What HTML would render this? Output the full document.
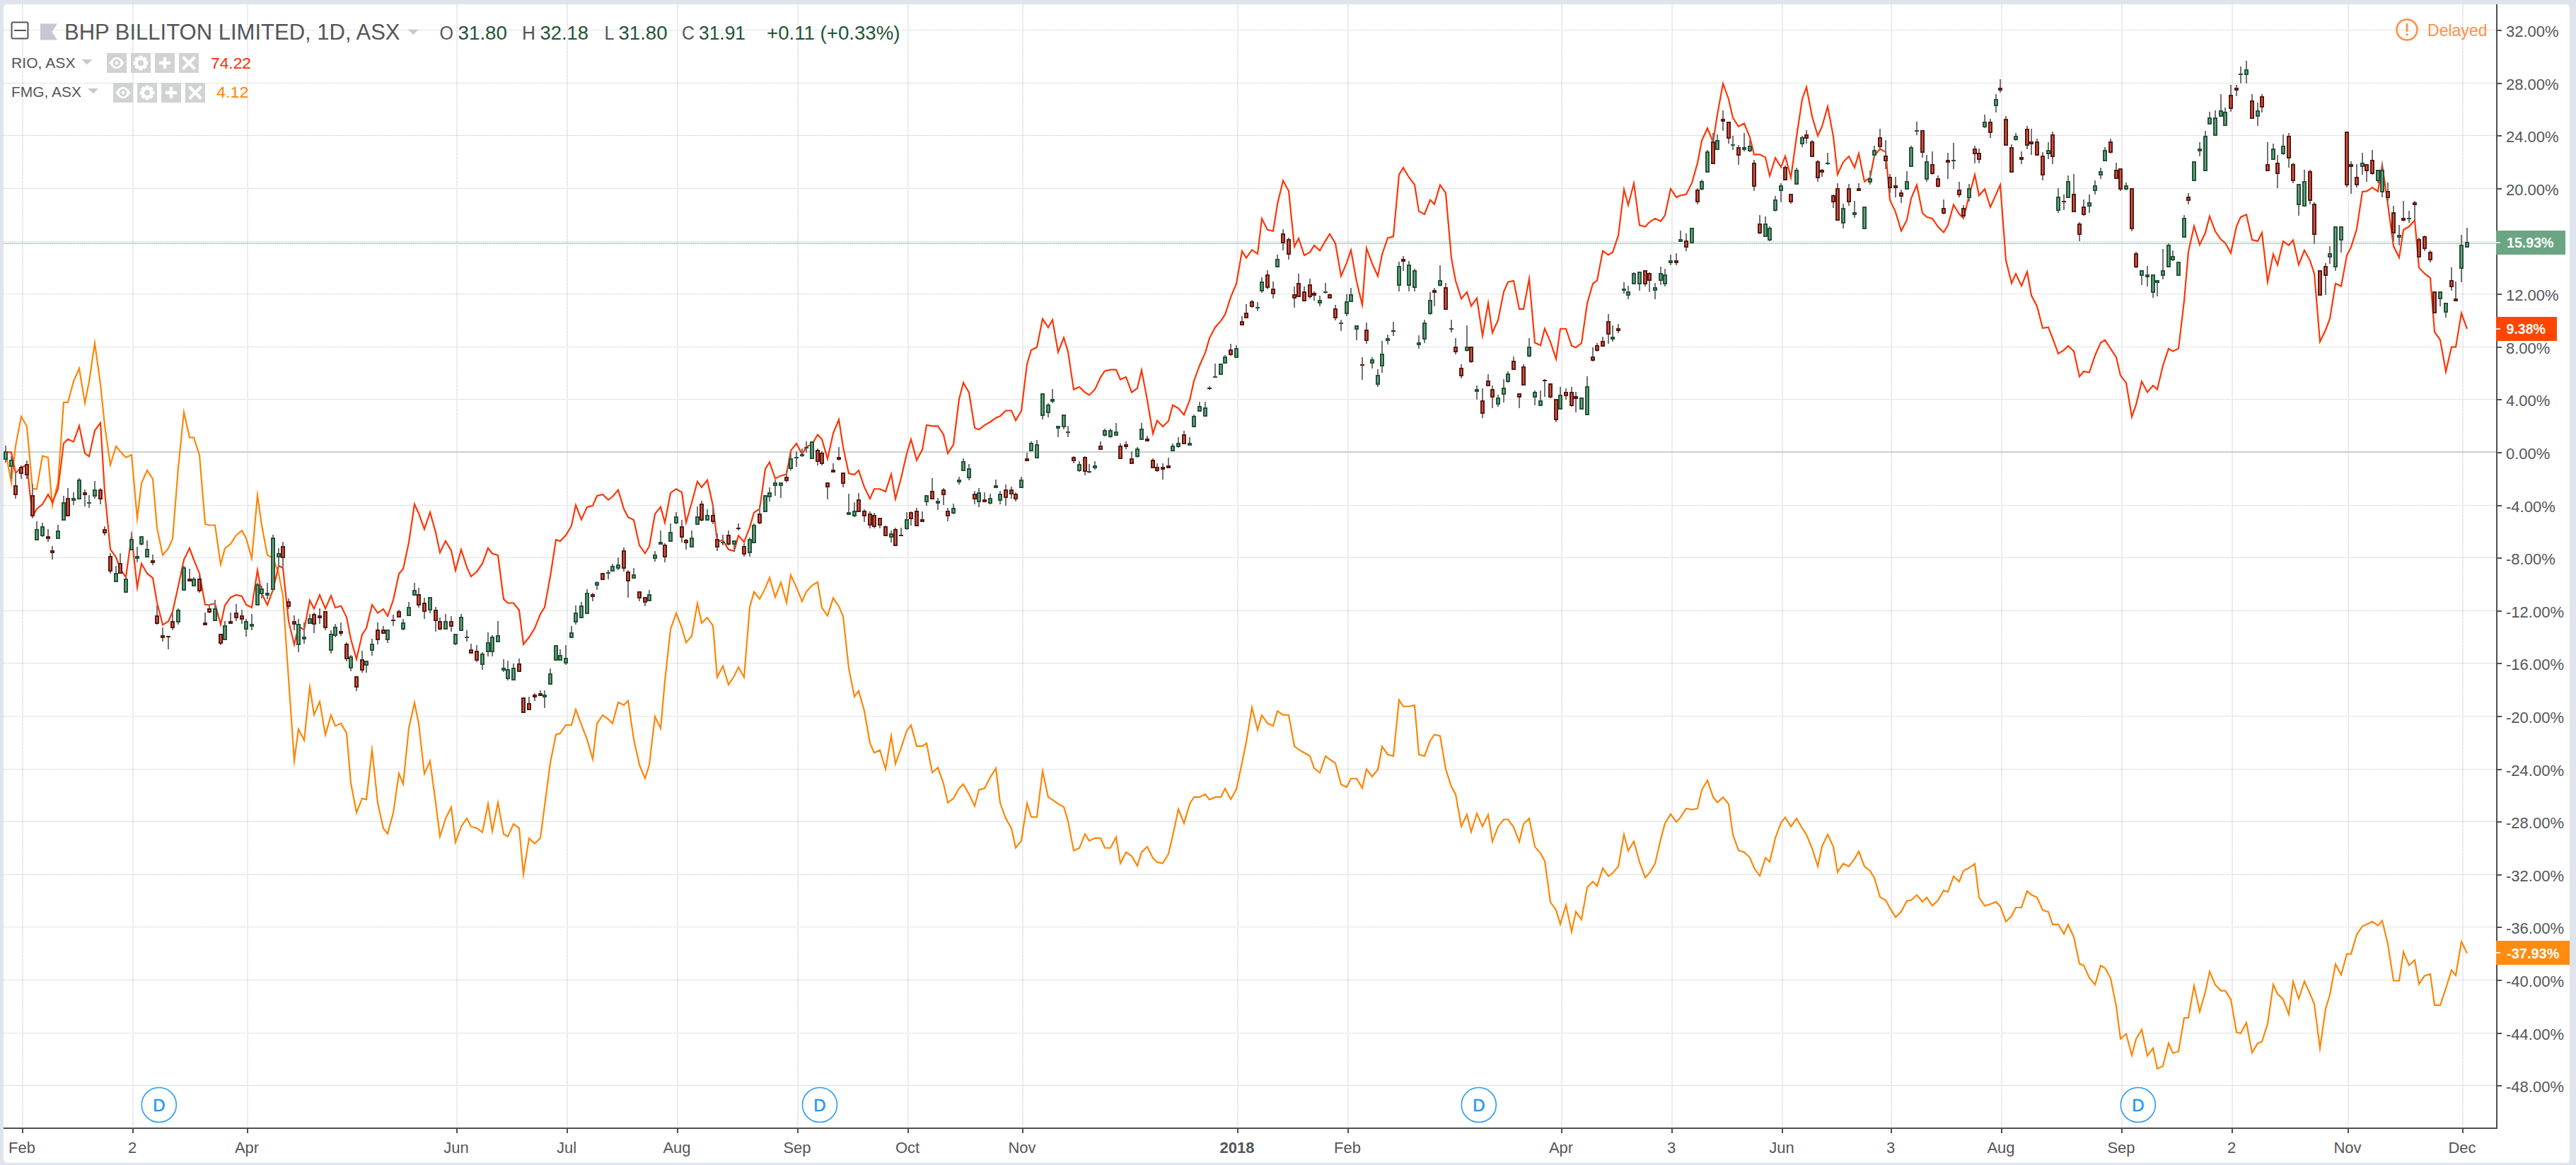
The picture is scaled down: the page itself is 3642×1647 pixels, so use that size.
<!DOCTYPE html><html><head><meta charset="utf-8"><title>BHP chart</title><style>html,body{margin:0;padding:0;background:#fff}body{width:3642px;height:1647px;overflow:hidden;position:relative}svg{position:absolute;left:0;top:0;display:block}text{font-family:"Liberation Sans",sans-serif}</style></head><body>
<svg width="3642" height="1647" viewBox="0 0 3642 1647">
<rect x="0" y="0" width="3642" height="1647" fill="#dfe3ec"/>
<rect x="5" y="6" width="3628" height="1638" rx="5" ry="5" fill="#fff"/>
<g stroke="#c3c9c5" stroke-width="1" stroke-dasharray="1 1" fill="none">
<path d="M5 42.5H3529"/>
<path d="M5 117.5H3529"/>
<path d="M5 191.5H3529"/>
<path d="M5 266.5H3529"/>
<path d="M5 341.5H3529"/>
<path d="M5 415.5H3529"/>
<path d="M5 490.5H3529"/>
<path d="M5 564.5H3529"/>
<path d="M5 714.5H3529"/>
<path d="M5 788.5H3529"/>
<path d="M5 863.5H3529"/>
<path d="M5 937.5H3529"/>
<path d="M5 1012.5H3529"/>
<path d="M5 1087.5H3529"/>
<path d="M5 1161.5H3529"/>
<path d="M5 1236.5H3529"/>
<path d="M5 1310.5H3529"/>
<path d="M5 1385.5H3529"/>
<path d="M5 1460.5H3529"/>
<path d="M5 1534.5H3529"/>
</g>
<g stroke="#d9d9e3" stroke-width="2" stroke-dasharray="1 1" fill="none">
<path d="M32.0 6V1594"/>
<path d="M188.0 6V1594"/>
<path d="M350.0 6V1594"/>
<path d="M646.0 6V1594"/>
<path d="M802.0 6V1594"/>
<path d="M958.0 6V1594"/>
<path d="M1128.0 6V1594"/>
<path d="M1284.0 6V1594"/>
<path d="M1446.0 6V1594"/>
<path d="M1750.0 6V1594"/>
<path d="M1906.0 6V1594"/>
<path d="M2208.0 6V1594"/>
<path d="M2364.0 6V1594"/>
<path d="M2520.0 6V1594"/>
<path d="M2674.0 6V1594"/>
<path d="M2830.0 6V1594"/>
<path d="M3000.0 6V1594"/>
<path d="M3156.0 6V1594"/>
<path d="M3320.0 6V1594"/>
<path d="M3482.0 6V1594"/>
</g>
<rect x="5" y="638" width="3524" height="2" fill="#cad0cb"/>
<rect x="5" y="343" width="3524" height="2" fill="#d8e0db"/>
<path d="M5 344.5H3529" stroke="#8ccaa0" stroke-width="1" stroke-dasharray="1 2" fill="none"/>
<path d="M5 343.5H3529" stroke="#a9d8d2" stroke-width="1" stroke-dasharray="1 2" fill="none"/>
<polyline points="8.0,638.8 16.0,682.5 22.0,630.6 30.0,588.8 38.0,602.8 46.0,691.1 52.0,691.1 60.0,644.7 68.0,646.8 74.0,714.8 82.0,682.1 90.0,568.8 96.0,568.8 104.0,539.2 112.0,520.8 120.0,569.7 126.0,539.2 134.0,485.1 142.0,543.0 148.0,601.0 156.0,657.3 164.0,630.9 170.0,638.3 178.0,646.8 186.0,643.1 194.0,733.1 200.0,683.4 208.0,664.9 216.0,676.9 222.0,746.4 230.0,784.6 238.0,775.2 244.0,761.8 252.0,661.4 260.0,582.7 268.0,618.5 274.0,618.5 282.0,643.5 290.0,740.7 296.0,742.5 304.0,742.5 312.0,797.9 318.0,775.2 326.0,769.0 334.0,756.7 342.0,750.2 348.0,761.0 356.0,789.4 364.0,700.2 370.0,742.5 378.0,785.0 386.0,788.8 394.0,810.7 400.0,842.9 408.0,960.0 416.0,1075.3 422.0,1030.9 430.0,1046.5 438.0,971.5 444.0,1010.5 452.0,992.0 460.0,1038.9 468.0,1010.9 474.0,1026.4 482.0,1022.6 490.0,1036.7 496.0,1106.8 504.0,1148.8 512.0,1128.7 518.0,1130.4 526.0,1060.1 534.0,1135.1 542.0,1171.2 548.0,1178.6 556.0,1149.3 564.0,1093.5 570.0,1108.4 578.0,1029.5 586.0,993.5 592.0,1023.1 600.0,1093.9 608.0,1075.8 616.0,1135.1 622.0,1182.7 630.0,1157.0 638.0,1141.2 644.0,1190.6 652.0,1168.7 660.0,1156.8 666.0,1168.7 674.0,1170.7 682.0,1176.7 690.0,1136.5 696.0,1175.1 704.0,1134.5 712.0,1179.0 718.0,1182.8 726.0,1164.9 734.0,1170.7 740.0,1235.5 748.0,1185.1 756.0,1192.6 764.0,1184.7 770.0,1139.1 778.0,1078.5 786.0,1038.6 792.0,1036.8 800.0,1025.0 808.0,1025.0 814.0,1002.9 822.0,1024.5 830.0,1045.1 838.0,1073.2 844.0,1023.2 852.0,1011.0 860.0,1016.8 866.0,1023.0 874.0,993.0 882.0,996.8 888.0,990.6 896.0,1045.1 904.0,1081.1 912.0,1100.6 918.0,1081.1 926.0,1012.9 934.0,1029.8 940.0,962.8 948.0,889.4 956.0,866.9 964.0,887.3 970.0,908.4 978.0,899.2 986.0,852.8 992.0,880.8 1000.0,873.2 1008.0,884.7 1014.0,957.3 1022.0,941.6 1030.0,967.9 1038.0,955.8 1044.0,943.0 1052.0,957.4 1060.0,858.5 1066.0,836.9 1074.0,846.7 1082.0,831.4 1088.0,816.6 1096.0,844.2 1104.0,823.3 1112.0,851.9 1118.0,813.0 1126.0,830.1 1134.0,850.3 1140.0,836.6 1148.0,827.6 1156.0,823.0 1162.0,859.0 1170.0,870.4 1178.0,845.3 1186.0,857.2 1192.0,871.3 1200.0,944.7 1208.0,984.8 1214.0,976.7 1222.0,1005.1 1230.0,1050.7 1236.0,1064.3 1244.0,1060.5 1252.0,1087.3 1260.0,1040.5 1266.0,1079.9 1274.0,1057.3 1282.0,1032.9 1288.0,1025.2 1296.0,1054.8 1304.0,1054.8 1310.0,1050.8 1318.0,1092.3 1326.0,1085.1 1334.0,1108.1 1340.0,1134.9 1348.0,1128.7 1356.0,1114.5 1362.0,1108.7 1370.0,1122.8 1378.0,1139.7 1384.0,1116.6 1392.0,1114.5 1400.0,1099.1 1408.0,1086.1 1414.0,1135.1 1422.0,1157.0 1430.0,1171.2 1436.0,1198.6 1444.0,1188.7 1452.0,1135.7 1458.0,1155.0 1466.0,1155.0 1474.0,1090.2 1482.0,1126.9 1488.0,1130.7 1496.0,1136.4 1504.0,1140.8 1510.0,1160.9 1518.0,1202.5 1526.0,1199.0 1534.0,1179.2 1540.0,1188.7 1548.0,1184.8 1556.0,1184.8 1562.0,1198.7 1570.0,1198.7 1578.0,1183.5 1584.0,1220.6 1592.0,1204.8 1600.0,1210.3 1608.0,1224.1 1614.0,1204.7 1622.0,1197.1 1630.0,1213.2 1636.0,1218.8 1644.0,1220.6 1652.0,1207.2 1658.0,1181.5 1666.0,1143.8 1674.0,1163.9 1682.0,1136.4 1688.0,1126.9 1696.0,1126.9 1704.0,1122.8 1710.0,1130.5 1718.0,1126.9 1726.0,1126.9 1732.0,1114.8 1740.0,1130.1 1748.0,1115.8 1756.0,1078.5 1762.0,1048.8 1770.0,1000.3 1778.0,1031.9 1784.0,1011.1 1792.0,1022.6 1800.0,1026.3 1806.0,1005.2 1814.0,1010.7 1822.0,1010.7 1830.0,1054.8 1836.0,1059.7 1844.0,1064.3 1852.0,1068.7 1858.0,1086.2 1866.0,1092.5 1874.0,1069.0 1880.0,1073.5 1888.0,1078.8 1896.0,1109.0 1904.0,1112.8 1910.0,1100.7 1918.0,1100.7 1926.0,1114.1 1932.0,1087.2 1940.0,1098.0 1948.0,1088.0 1954.0,1055.5 1962.0,1066.7 1970.0,1068.8 1978.0,989.7 1984.0,998.7 1992.0,998.7 2000.0,997.0 2006.0,1066.7 2014.0,1068.9 2022.0,1047.2 2028.0,1038.6 2036.0,1040.4 2044.0,1087.4 2052.0,1112.1 2058.0,1122.9 2066.0,1168.3 2074.0,1151.5 2080.0,1176.0 2088.0,1150.0 2096.0,1168.2 2104.0,1151.7 2110.0,1189.8 2118.0,1168.7 2126.0,1158.5 2132.0,1158.5 2140.0,1169.3 2148.0,1190.1 2154.0,1164.7 2162.0,1157.2 2170.0,1197.1 2178.0,1206.4 2184.0,1217.2 2192.0,1275.3 2200.0,1286.7 2206.0,1306.6 2214.0,1279.4 2222.0,1317.1 2228.0,1288.8 2236.0,1300.0 2244.0,1254.3 2252.0,1246.5 2258.0,1252.5 2266.0,1227.5 2274.0,1238.8 2280.0,1234.2 2288.0,1224.9 2296.0,1179.8 2302.0,1202.8 2310.0,1189.4 2318.0,1218.7 2326.0,1240.8 2332.0,1234.2 2340.0,1220.9 2348.0,1186.3 2354.0,1164.0 2362.0,1151.0 2370.0,1162.1 2376.0,1155.4 2384.0,1143.0 2392.0,1144.6 2400.0,1143.0 2406.0,1116.8 2414.0,1103.4 2422.0,1126.7 2428.0,1134.4 2436.0,1127.1 2444.0,1136.9 2450.0,1180.1 2458.0,1202.4 2466.0,1204.8 2474.0,1212.6 2480.0,1227.1 2488.0,1238.4 2496.0,1212.7 2502.0,1218.5 2510.0,1184.7 2518.0,1163.1 2524.0,1155.5 2532.0,1168.5 2540.0,1157.1 2548.0,1170.8 2554.0,1180.1 2562.0,1199.6 2570.0,1224.5 2576.0,1196.5 2584.0,1179.7 2592.0,1197.1 2598.0,1232.9 2606.0,1220.9 2614.0,1224.9 2622.0,1214.1 2628.0,1203.6 2636.0,1224.9 2644.0,1231.1 2650.0,1241.3 2658.0,1268.1 2666.0,1272.8 2672.0,1283.6 2680.0,1296.8 2688.0,1288.8 2696.0,1273.4 2702.0,1272.8 2710.0,1265.2 2718.0,1274.9 2724.0,1268.8 2732.0,1280.4 2740.0,1272.8 2748.0,1258.9 2754.0,1261.0 2762.0,1239.0 2770.0,1246.4 2776.0,1231.1 2784.0,1227.0 2792.0,1221.2 2798.0,1268.8 2806.0,1280.5 2814.0,1278.3 2822.0,1274.9 2828.0,1281.4 2836.0,1302.9 2844.0,1295.0 2850.0,1283.0 2858.0,1283.0 2866.0,1259.6 2872.0,1265.1 2880.0,1268.8 2888.0,1286.7 2896.0,1289.2 2902.0,1306.8 2910.0,1306.8 2918.0,1320.4 2924.0,1307.2 2932.0,1324.7 2940.0,1362.4 2946.0,1364.9 2954.0,1382.5 2962.0,1392.0 2970.0,1365.0 2976.0,1368.6 2984.0,1383.1 2992.0,1422.6 2998.0,1468.7 3006.0,1461.6 3014.0,1492.1 3020.0,1469.0 3028.0,1455.7 3036.0,1492.6 3044.0,1481.8 3050.0,1511.0 3058.0,1507.1 3066.0,1474.8 3072.0,1488.8 3080.0,1486.5 3088.0,1439.0 3094.0,1439.0 3102.0,1393.5 3110.0,1430.4 3118.0,1401.7 3124.0,1373.5 3132.0,1392.3 3140.0,1400.6 3146.0,1400.6 3154.0,1412.9 3162.0,1459.3 3168.0,1460.8 3176.0,1446.0 3184.0,1488.1 3192.0,1474.9 3198.0,1472.7 3206.0,1447.5 3214.0,1391.8 3220.0,1405.0 3228.0,1412.9 3236.0,1434.4 3242.0,1387.5 3250.0,1412.0 3258.0,1387.2 3266.0,1405.0 3272.0,1419.6 3280.0,1481.9 3288.0,1426.2 3294.0,1406.2 3302.0,1363.0 3310.0,1378.0 3318.0,1348.6 3324.0,1348.6 3332.0,1321.3 3340.0,1309.5 3346.0,1306.8 3354.0,1302.8 3362.0,1308.6 3368.0,1301.5 3376.0,1334.7 3384.0,1386.5 3392.0,1386.5 3398.0,1345.8 3406.0,1364.7 3414.0,1357.4 3420.0,1391.2 3428.0,1379.4 3436.0,1377.2 3442.0,1421.1 3450.0,1421.1 3458.0,1397.2 3466.0,1371.4 3472.0,1379.0 3480.0,1331.2 3488.0,1347.5" fill="none" stroke="#FF8400" stroke-width="2.15" stroke-linejoin="miter" stroke-miterlimit="10"/>
<polyline points="8.0,638.8 16.0,639.6 22.0,668.9 30.0,661.0 38.0,657.7 46.0,730.3 52.0,719.4 60.0,713.0 68.0,699.0 74.0,710.1 82.0,691.1 90.0,626.7 96.0,620.8 104.0,624.6 112.0,602.1 120.0,640.9 126.0,645.2 134.0,608.7 142.0,597.8 148.0,694.8 156.0,776.7 164.0,787.6 170.0,804.3 178.0,816.0 186.0,757.3 194.0,830.4 200.0,796.8 208.0,810.7 216.0,817.2 222.0,851.9 230.0,883.3 238.0,878.5 244.0,864.8 252.0,828.8 260.0,791.4 268.0,775.1 274.0,791.4 282.0,810.7 290.0,855.0 296.0,855.0 304.0,853.2 312.0,883.0 318.0,855.8 326.0,844.7 334.0,840.9 342.0,842.9 348.0,855.0 356.0,859.0 364.0,806.1 370.0,839.1 378.0,855.3 386.0,833.9 394.0,799.8 400.0,803.0 408.0,877.7 416.0,911.4 422.0,885.5 430.0,890.4 438.0,848.7 444.0,860.6 452.0,841.0 460.0,860.4 468.0,842.1 474.0,859.2 482.0,856.6 490.0,872.5 496.0,903.5 504.0,931.8 512.0,897.0 518.0,888.0 526.0,855.0 534.0,866.6 542.0,861.0 548.0,871.0 556.0,848.1 564.0,811.3 570.0,804.3 578.0,767.0 586.0,712.8 592.0,725.8 600.0,748.1 608.0,724.2 616.0,752.8 622.0,781.2 630.0,764.8 638.0,778.5 644.0,806.5 652.0,777.0 660.0,801.7 666.0,815.1 674.0,808.2 682.0,796.7 690.0,775.0 696.0,782.5 704.0,785.1 712.0,846.9 718.0,852.5 726.0,852.5 734.0,862.8 740.0,910.8 748.0,901.0 756.0,888.1 764.0,868.0 770.0,858.5 778.0,814.7 786.0,763.2 792.0,765.0 800.0,756.8 808.0,743.2 814.0,714.0 822.0,734.4 830.0,716.9 838.0,714.9 844.0,701.0 852.0,698.9 860.0,706.6 866.0,702.0 874.0,692.8 882.0,719.5 888.0,731.1 896.0,735.0 904.0,770.9 912.0,782.3 918.0,772.2 926.0,726.7 934.0,716.7 940.0,738.9 948.0,696.8 956.0,691.2 964.0,695.8 970.0,738.7 978.0,710.5 986.0,680.7 992.0,689.0 1000.0,678.8 1008.0,714.9 1014.0,765.7 1022.0,763.7 1030.0,776.8 1038.0,779.1 1044.0,757.1 1052.0,766.2 1060.0,745.3 1066.0,724.7 1074.0,719.5 1082.0,662.8 1088.0,653.4 1096.0,676.4 1104.0,672.4 1112.0,670.6 1118.0,637.1 1126.0,627.0 1134.0,642.0 1140.0,631.9 1148.0,628.1 1156.0,614.5 1162.0,620.9 1170.0,648.7 1178.0,612.6 1186.0,593.0 1192.0,631.9 1200.0,669.3 1208.0,671.1 1214.0,664.9 1222.0,688.6 1230.0,704.9 1236.0,691.2 1244.0,691.2 1252.0,694.9 1260.0,670.4 1266.0,705.3 1274.0,675.7 1282.0,641.0 1288.0,621.1 1296.0,650.5 1304.0,635.6 1310.0,600.9 1318.0,602.4 1326.0,602.4 1334.0,614.5 1340.0,641.1 1348.0,628.7 1356.0,564.3 1362.0,541.1 1370.0,554.8 1378.0,605.0 1384.0,607.3 1392.0,601.1 1400.0,596.5 1408.0,590.8 1414.0,588.3 1422.0,580.5 1430.0,580.5 1436.0,594.4 1444.0,581.0 1452.0,514.9 1458.0,494.8 1466.0,490.9 1474.0,450.8 1482.0,462.9 1488.0,452.1 1496.0,497.9 1504.0,477.4 1510.0,497.3 1518.0,550.6 1526.0,547.0 1534.0,554.8 1540.0,558.4 1548.0,550.7 1556.0,533.4 1562.0,524.4 1570.0,522.6 1578.0,522.6 1584.0,536.5 1592.0,532.9 1600.0,554.7 1608.0,548.8 1614.0,523.1 1622.0,565.6 1630.0,613.0 1636.0,594.6 1644.0,602.9 1652.0,595.2 1658.0,572.6 1666.0,577.2 1674.0,586.4 1682.0,565.6 1688.0,538.5 1696.0,516.7 1704.0,498.6 1710.0,478.1 1718.0,462.7 1726.0,453.7 1732.0,444.7 1740.0,420.2 1748.0,400.9 1756.0,355.0 1762.0,364.6 1770.0,353.2 1778.0,358.9 1784.0,309.1 1792.0,324.9 1800.0,326.7 1806.0,288.8 1814.0,255.3 1822.0,270.0 1830.0,348.6 1836.0,337.0 1844.0,360.9 1852.0,356.6 1858.0,346.9 1866.0,354.4 1874.0,340.4 1880.0,330.8 1888.0,344.2 1896.0,390.3 1904.0,371.3 1910.0,353.5 1918.0,398.3 1926.0,430.9 1932.0,350.9 1940.0,372.5 1948.0,390.5 1954.0,359.7 1962.0,336.5 1970.0,334.4 1978.0,246.9 1984.0,237.0 1992.0,250.7 2000.0,261.0 2006.0,298.6 2014.0,302.9 2022.0,282.6 2028.0,288.6 2036.0,261.5 2044.0,272.9 2052.0,364.8 2058.0,397.0 2066.0,422.4 2074.0,412.8 2080.0,432.7 2088.0,421.6 2096.0,474.5 2104.0,428.6 2110.0,470.3 2118.0,452.4 2126.0,412.5 2132.0,398.8 2140.0,397.0 2148.0,436.9 2154.0,436.9 2162.0,394.1 2170.0,484.6 2178.0,488.3 2184.0,464.7 2192.0,483.3 2200.0,507.5 2206.0,464.7 2214.0,464.7 2222.0,488.9 2228.0,491.2 2236.0,485.0 2244.0,428.8 2252.0,401.0 2258.0,396.7 2266.0,354.7 2274.0,360.4 2280.0,356.5 2288.0,332.9 2296.0,267.8 2302.0,289.9 2310.0,259.2 2318.0,318.4 2326.0,320.5 2332.0,314.1 2340.0,308.9 2348.0,312.8 2354.0,304.3 2362.0,267.0 2370.0,278.8 2376.0,276.2 2384.0,274.7 2392.0,258.7 2400.0,230.4 2406.0,198.7 2414.0,181.3 2422.0,201.0 2428.0,162.1 2436.0,118.2 2444.0,140.2 2450.0,166.5 2458.0,178.8 2466.0,174.6 2474.0,194.3 2480.0,218.3 2488.0,218.3 2496.0,222.6 2502.0,248.7 2510.0,223.1 2518.0,236.4 2524.0,220.8 2532.0,251.0 2540.0,193.0 2548.0,140.2 2554.0,123.1 2562.0,164.7 2570.0,192.0 2576.0,178.8 2584.0,150.6 2592.0,193.0 2598.0,246.6 2606.0,229.1 2614.0,221.0 2622.0,236.8 2628.0,217.2 2636.0,256.7 2644.0,251.0 2650.0,220.1 2658.0,210.5 2666.0,214.9 2672.0,282.6 2680.0,299.9 2688.0,326.3 2696.0,311.0 2702.0,280.6 2710.0,261.5 2718.0,301.2 2724.0,306.8 2732.0,308.9 2740.0,320.5 2748.0,328.6 2754.0,318.4 2762.0,289.4 2770.0,302.5 2776.0,308.7 2784.0,276.7 2792.0,247.0 2798.0,276.3 2806.0,267.2 2814.0,292.8 2822.0,274.9 2828.0,261.4 2836.0,368.1 2844.0,400.2 2850.0,387.1 2858.0,404.1 2866.0,384.2 2872.0,417.6 2880.0,433.0 2888.0,463.9 2896.0,462.6 2902.0,478.1 2910.0,499.9 2918.0,494.8 2924.0,488.9 2932.0,496.6 2940.0,532.4 2946.0,525.0 2954.0,526.5 2962.0,502.5 2970.0,484.5 2976.0,480.7 2984.0,492.8 2992.0,505.1 2998.0,530.9 3006.0,541.2 3014.0,589.2 3020.0,572.1 3028.0,539.3 3036.0,554.4 3044.0,545.0 3050.0,550.5 3058.0,516.7 3066.0,492.9 3072.0,496.6 3080.0,492.8 3088.0,425.3 3094.0,355.8 3102.0,319.7 3110.0,346.1 3118.0,328.8 3124.0,305.7 3132.0,327.0 3140.0,338.6 3146.0,343.5 3154.0,357.7 3162.0,319.8 3168.0,306.9 3176.0,303.2 3184.0,339.1 3192.0,340.9 3198.0,329.0 3206.0,398.4 3214.0,359.2 3220.0,374.4 3228.0,341.1 3236.0,346.8 3242.0,339.4 3250.0,374.1 3258.0,353.8 3266.0,368.6 3272.0,386.7 3280.0,482.9 3288.0,466.5 3294.0,450.5 3302.0,400.9 3310.0,404.6 3318.0,361.0 3324.0,349.4 3332.0,323.7 3340.0,270.9 3346.0,270.4 3354.0,265.0 3362.0,270.7 3368.0,233.0 3376.0,288.9 3384.0,348.1 3392.0,364.1 3398.0,325.0 3406.0,320.3 3414.0,311.3 3420.0,378.4 3428.0,386.7 3436.0,393.1 3442.0,469.1 3450.0,480.7 3458.0,525.3 3466.0,490.6 3472.0,490.6 3480.0,442.8 3488.0,464.8" fill="none" stroke="#FF3300" stroke-width="2.15" stroke-linejoin="miter" stroke-miterlimit="10"/>
<path d="M8 630.0V654.0M16 645.0V677.0M22 667.0V705.0M30 658.0V677.0M38 651.0V677.0M46 684.0V732.0M52 737.0V764.0M60 739.0V759.0M68 748.0V766.0M74 772.0V791.0M82 742.0V762.0M90 701.0V736.0M96 690.0V730.0M104 696.0V714.0M112 676.0V706.0M120 692.0V716.0M126 700.0V718.0M134 680.0V705.0M142 690.0V713.0M148 744.0V757.0M156 782.0V811.0M164 800.0V823.0M170 782.0V811.0M178 816.0V838.0M186 753.0V778.0M194 773.0V795.0M200 758.0V771.0M208 764.0V788.0M216 784.0V799.0M222 856.0V883.0M230 887.0V907.0M238 899.0V918.0M244 866.0V891.0M252 860.0V883.0M260 800.0V835.0M268 804.0V822.0M274 816.0V829.0M282 812.0V838.0M290 866.0V884.0M296 854.0V867.0M304 848.0V878.0M312 896.0V912.0M318 878.0V905.0M326 866.0V882.0M334 854.0V878.0M342 862.0V882.0M348 875.0V900.0M356 868.0V891.0M364 824.0V856.0M370 828.0V846.0M378 824.0V847.0M386 756.0V834.0M394 775.0V802.0M400 766.0V803.0M408 846.0V861.0M416 870.0V891.0M422 875.0V922.0M430 880.0V910.0M438 868.0V882.0M444 866.0V895.0M452 860.0V882.0M460 864.0V891.0M468 891.0V924.0M474 882.0V901.0M482 880.0V899.0M490 908.0V935.0M496 926.0V949.0M504 956.0V977.0M512 920.0V951.0M518 934.0V951.0M526 903.0V927.0M534 880.0V911.0M542 885.0V896.0M548 890.0V909.0M556 869.0V885.0M564 862.0V873.0M570 875.0V891.0M578 851.0V871.0M586 824.0V842.0M592 831.0V859.0M600 845.0V875.0M608 844.0V867.0M616 858.0V893.0M622 873.0V891.0M630 868.0V890.0M638 871.0V893.0M644 896.0V912.0M652 868.0V892.0M660 891.0V907.0M666 910.0V924.0M674 912.0V936.0M682 922.0V947.0M690 894.0V928.0M696 898.0V928.0M704 878.0V908.0M712 932.0V950.0M718 934.0V962.0M726 938.0V962.0M734 931.0V950.0M740 986.0V1008.0M748 985.0V1004.0M756 980.0V991.0M764 976.0V984.0M770 976.0V1001.0M778 945.0V968.0M786 912.0V934.0M792 918.0V934.0M800 912.0V940.0M808 885.0V902.0M814 856.0V883.0M822 851.0V874.0M830 833.0V868.0M838 838.0V850.0M844 822.0V834.0M852 810.0V820.0M860 806.0V819.0M866 797.0V808.0M874 788.0V806.0M882 774.0V808.0M888 806.0V845.0M896 803.0V818.0M904 836.0V850.0M912 844.0V857.0M918 834.0V850.0M926 779.0V794.0M934 750.0V770.0M940 768.0V795.0M948 740.0V766.0M956 724.0V741.0M964 735.0V767.0M970 762.0V777.0M978 750.0V774.0M986 716.0V742.0M992 708.0V737.0M1000 720.0V736.0M1008 716.0V741.0M1014 754.0V779.0M1022 756.0V771.0M1030 750.0V771.0M1038 764.0V779.0M1044 740.0V750.0M1052 768.0V787.0M1060 760.0V787.0M1066 740.0V768.0M1074 714.0V741.0M1082 700.0V724.0M1088 689.0V709.0M1096 678.0V701.0M1104 682.0V704.0M1112 665.0V682.0M1118 640.0V665.0M1126 638.0V660.0M1134 634.0V646.0M1140 624.0V640.0M1148 624.0V649.0M1156 634.0V658.0M1162 638.0V658.0M1170 682.0V706.0M1178 655.0V668.0M1186 632.0V651.0M1192 668.0V689.0M1200 698.0V728.0M1208 710.0V731.0M1214 697.0V724.0M1222 720.0V738.0M1230 723.0V747.0M1236 725.0V747.0M1244 732.0V747.0M1252 743.0V758.0M1260 750.0V767.0M1266 746.0V772.0M1274 746.0V758.0M1282 724.0V749.0M1288 723.0V743.0M1296 718.0V744.0M1304 723.0V738.0M1310 700.0V715.0M1318 676.0V706.0M1326 704.0V721.0M1334 690.0V714.0M1340 718.0V737.0M1348 712.0V727.0M1356 674.0V685.0M1362 648.0V666.0M1370 656.0V679.0M1378 694.0V713.0M1384 690.0V717.0M1392 696.0V710.0M1400 698.0V713.0M1408 678.0V690.0M1414 694.0V713.0M1422 685.0V715.0M1430 688.0V705.0M1436 696.0V709.0M1444 674.0V690.0M1452 640.0V652.0M1458 624.0V638.0M1466 622.0V648.0M1474 556.0V593.0M1482 570.0V590.0M1488 550.0V570.0M1496 602.0V618.0M1504 586.0V607.0M1510 602.0V618.0M1518 645.0V655.0M1526 652.0V667.0M1534 645.0V672.0M1540 656.0V669.0M1548 652.0V664.0M1556 624.0V636.0M1562 606.0V617.0M1570 606.0V619.0M1578 598.0V616.0M1584 627.0V649.0M1592 624.0V635.0M1600 638.0V656.0M1608 632.0V647.0M1614 598.0V622.0M1622 616.0V624.0M1630 648.0V662.0M1636 655.0V667.0M1644 655.0V678.0M1652 647.0V662.0M1658 627.0V638.0M1666 618.0V633.0M1674 609.0V628.0M1682 618.0V630.0M1688 586.0V604.0M1696 568.0V582.0M1704 568.0V589.0M1710 546.0V551.0M1718 514.0V534.0M1726 514.0V530.0M1732 502.0V514.0M1740 486.0V503.0M1748 488.0V506.0M1756 447.0V460.0M1762 430.0V450.0M1770 424.0V435.0M1778 427.0V440.0M1784 392.0V414.0M1792 382.0V409.0M1800 398.0V422.0M1806 360.0V378.0M1814 324.0V354.0M1822 336.0V367.0M1830 405.0V435.0M1836 387.0V420.0M1844 405.0V426.0M1852 394.0V422.0M1858 412.0V425.0M1866 418.0V433.0M1874 400.0V415.0M1880 415.0V422.0M1888 431.0V453.0M1896 452.0V468.0M1904 416.0V447.0M1910 407.0V427.0M1918 460.0V481.0M1926 505.0V537.0M1932 456.0V486.0M1940 505.0V521.0M1948 522.0V547.0M1954 482.0V527.0M1962 473.0V487.0M1970 455.0V475.0M1978 370.0V412.0M1984 362.0V383.0M1992 369.0V412.0M2000 380.0V412.0M2006 474.0V493.0M2014 452.0V485.0M2022 413.0V445.0M2028 407.0V433.0M2036 375.0V405.0M2044 400.0V438.0M2052 452.0V470.0M2058 478.0V501.0M2066 515.0V535.0M2074 460.0V497.0M2080 490.0V513.0M2088 545.0V565.0M2096 549.0V591.0M2104 529.0V546.0M2110 545.0V577.0M2118 558.0V575.0M2126 536.0V569.0M2132 525.0V541.0M2140 504.0V523.0M2148 556.0V577.0M2154 515.0V545.0M2162 478.0V505.0M2170 552.0V573.0M2178 552.0V574.0M2184 536.0V561.0M2192 542.0V563.0M2200 564.0V597.0M2206 547.0V579.0M2214 549.0V565.0M2222 547.0V575.0M2228 554.0V583.0M2236 562.0V579.0M2244 532.0V587.0M2252 491.0V511.0M2258 485.0V497.0M2266 476.0V490.0M2274 444.0V486.0M2280 460.0V483.0M2288 458.0V471.0M2296 399.0V415.0M2302 404.0V423.0M2310 385.0V402.0M2318 384.0V411.0M2326 382.0V405.0M2332 385.0V413.0M2340 400.0V423.0M2348 377.0V403.0M2354 380.0V405.0M2362 360.0V375.0M2370 358.0V375.0M2376 326.0V342.0M2384 330.0V355.0M2392 322.0V344.0M2400 266.0V289.0M2406 254.0V269.0M2414 212.0V244.0M2422 188.0V232.0M2428 190.0V212.0M2436 156.0V185.0M2444 172.0V203.0M2450 192.0V212.0M2458 205.0V233.0M2466 188.0V214.0M2474 198.0V215.0M2480 226.0V270.0M2488 304.0V331.0M2496 306.0V335.0M2502 320.0V341.0M2510 277.0V299.0M2518 259.0V286.0M2524 234.0V255.0M2532 274.0V288.0M2540 237.0V261.0M2548 192.0V208.0M2554 184.0V203.0M2562 198.0V222.0M2570 226.0V257.0M2576 239.0V250.0M2584 216.0V233.0M2592 275.0V294.0M2598 259.0V312.0M2606 288.0V323.0M2614 260.0V291.0M2622 284.0V308.0M2628 259.0V270.0M2636 292.0V324.0M2644 241.0V261.0M2650 206.0V223.0M2658 182.0V210.0M2666 198.0V239.0M2672 246.0V273.0M2680 250.0V279.0M2688 268.0V287.0M2696 242.0V268.0M2702 206.0V236.0M2710 172.0V191.0M2718 184.0V223.0M2724 219.0V257.0M2732 214.0V247.0M2740 248.0V265.0M2748 282.0V303.0M2754 216.0V253.0M2762 202.0V239.0M2770 257.0V279.0M2776 290.0V309.0M2784 260.0V285.0M2792 206.0V231.0M2798 210.0V231.0M2806 162.0V181.0M2814 168.0V195.0M2822 133.0V159.0M2828 112.0V131.0M2836 164.0V206.0M2844 204.0V244.0M2850 188.0V199.0M2858 214.0V232.0M2866 178.0V211.0M2872 182.0V219.0M2880 196.0V220.0M2888 215.0V255.0M2896 201.0V225.0M2902 186.0V232.0M2910 266.0V301.0M2918 275.0V297.0M2924 248.0V280.0M2932 246.0V300.0M2940 314.0V341.0M2946 282.0V305.0M2954 275.0V301.0M2962 255.0V275.0M2970 237.0V253.0M2976 208.0V228.0M2984 196.0V217.0M2992 230.0V253.0M2998 238.0V270.0M3006 258.0V269.0M3014 266.0V327.0M3020 356.0V379.0M3028 382.0V403.0M3036 376.0V405.0M3044 388.0V421.0M3050 396.0V419.0M3058 352.0V395.0M3066 344.0V378.0M3072 354.0V369.0M3080 370.0V390.0M3088 304.0V336.0M3094 273.0V289.0M3102 228.0V256.0M3110 201.0V221.0M3118 185.0V242.0M3124 158.0V176.0M3132 156.0V192.0M3140 133.0V165.0M3146 152.0V178.0M3154 120.0V158.0M3162 120.0V136.0M3168 94.0V118.0M3176 86.0V118.0M3184 133.0V168.0M3192 145.0V178.0M3198 133.0V159.0M3206 201.0V242.0M3214 203.0V226.0M3220 219.0V266.0M3228 190.0V219.0M3236 188.0V237.0M3242 230.0V259.0M3250 260.0V305.0M3258 240.0V292.0M3266 240.0V289.0M3272 286.0V345.0M3280 382.0V418.0M3288 372.0V417.0M3294 348.0V373.0M3302 320.0V383.0M3310 320.0V357.0M3318 186.0V265.0M3324 228.0V274.0M3332 232.0V265.0M3340 216.0V247.0M3346 232.0V257.0M3354 212.0V247.0M3362 240.0V259.0M3368 232.0V279.0M3376 258.0V285.0M3384 291.0V341.0M3392 318.0V347.0M3398 284.0V313.0M3406 298.0V315.0M3414 284.0V311.0M3420 336.0V364.0M3428 333.0V355.0M3436 354.0V371.0M3442 412.0V443.0M3450 412.0V433.0M3458 428.0V449.0M3466 378.0V411.0M3472 398.0V426.0M3480 332.0V399.0M3488 322.0V350.0" stroke="#737375" stroke-width="2" fill="none"/>
<path d="M5 638.0h6v12.0h-6zM13 650.0h6v10.0h-6zM49 748.0h6v16.0h-6zM57 744.0h6v14.0h-6zM79 750.0h6v12.0h-6zM87 710.0h6v26.0h-6zM101 704.0h6v4.0h-6zM109 678.0h6v28.0h-6zM123 710.0h6v2.0h-6zM131 692.0h6v10.0h-6zM161 810.0h6v13.0h-6zM175 818.0h6v20.0h-6zM183 762.0h6v16.0h-6zM191 786.0h6v4.0h-6zM197 758.0h6v12.0h-6zM205 776.0h6v12.0h-6zM249 862.0h6v18.0h-6zM257 802.0h6v33.0h-6zM271 818.0h6v11.0h-6zM301 860.0h6v18.0h-6zM315 884.0h6v21.0h-6zM345 878.0h6v12.0h-6zM353 882.0h6v4.0h-6zM361 826.0h6v30.0h-6zM367 832.0h6v8.0h-6zM375 838.0h6v4.0h-6zM383 760.0h6v74.0h-6zM391 782.0h6v6.0h-6zM419 882.0h6v30.0h-6zM427 900.0h6v4.0h-6zM435 874.0h6v8.0h-6zM465 896.0h6v24.0h-6zM471 886.0h6v13.0h-6zM493 928.0h6v17.0h-6zM515 934.0h6v7.0h-6zM523 910.0h6v10.0h-6zM545 890.0h6v15.0h-6zM567 880.0h6v10.0h-6zM575 858.0h6v13.0h-6zM583 834.0h6v8.0h-6zM605 844.0h6v19.0h-6zM627 878.0h6v12.0h-6zM641 896.0h6v15.0h-6zM649 872.0h6v20.0h-6zM657 900.0h6v2.0h-6zM679 924.0h6v16.0h-6zM687 908.0h6v14.0h-6zM693 900.0h6v22.0h-6zM701 898.0h6v10.0h-6zM709 944.0h6v4.0h-6zM715 946.0h6v14.0h-6zM723 944.0h6v18.0h-6zM767 982.0h6v4.0h-6zM775 952.0h6v16.0h-6zM783 912.0h6v22.0h-6zM789 926.0h6v8.0h-6zM797 930.0h6v8.0h-6zM805 894.0h6v8.0h-6zM811 866.0h6v14.0h-6zM819 856.0h6v18.0h-6zM827 838.0h6v30.0h-6zM841 823.0h6v5.0h-6zM857 809.0h6v2.0h-6zM863 800.0h6v8.0h-6zM871 798.0h6v6.0h-6zM893 812.0h6v6.0h-6zM915 840.0h6v10.0h-6zM923 784.0h6v6.0h-6zM931 766.0h6v4.0h-6zM945 752.0h6v14.0h-6zM953 730.0h6v10.0h-6zM975 760.0h6v14.0h-6zM983 730.0h6v12.0h-6zM997 728.0h6v8.0h-6zM1019 766.0h6v2.0h-6zM1035 764.0h6v6.0h-6zM1057 762.0h6v20.0h-6zM1063 742.0h6v26.0h-6zM1079 700.0h6v24.0h-6zM1085 696.0h6v7.0h-6zM1093 682.0h6v5.0h-6zM1101 682.0h6v5.0h-6zM1115 648.0h6v15.0h-6zM1123 646.0h6v2.0h-6zM1131 642.0h6v3.0h-6zM1137 632.0h6v2.0h-6zM1145 624.0h6v25.0h-6zM1197 724.0h6v4.0h-6zM1205 722.0h6v8.0h-6zM1257 754.0h6v6.0h-6zM1279 734.0h6v14.0h-6zM1307 700.0h6v10.0h-6zM1323 708.0h6v4.0h-6zM1345 718.0h6v8.0h-6zM1353 678.0h6v4.0h-6zM1359 652.0h6v14.0h-6zM1367 662.0h6v14.0h-6zM1381 696.0h6v14.0h-6zM1397 704.0h6v8.0h-6zM1405 686.0h6v4.0h-6zM1411 698.0h6v10.0h-6zM1441 678.0h6v12.0h-6zM1455 626.0h6v12.0h-6zM1463 628.0h6v20.0h-6zM1471 556.0h6v32.0h-6zM1479 572.0h6v12.0h-6zM1485 564.0h6v4.0h-6zM1493 602.0h6v4.0h-6zM1501 586.0h6v18.0h-6zM1507 610.0h6v2.0h-6zM1523 656.0h6v10.0h-6zM1537 666.0h6v2.0h-6zM1545 658.0h6v4.0h-6zM1559 608.0h6v8.0h-6zM1567 608.0h6v10.0h-6zM1575 610.0h6v6.0h-6zM1605 634.0h6v12.0h-6zM1611 606.0h6v16.0h-6zM1655 630.0h6v8.0h-6zM1663 626.0h6v6.0h-6zM1679 626.0h6v4.0h-6zM1685 588.0h6v16.0h-6zM1693 574.0h6v8.0h-6zM1701 576.0h6v13.0h-6zM1715 532.0h6v2.0h-6zM1723 514.0h6v16.0h-6zM1729 504.0h6v10.0h-6zM1745 492.0h6v14.0h-6zM1775 434.0h6v2.0h-6zM1781 398.0h6v14.0h-6zM1803 366.0h6v12.0h-6zM1863 424.0h6v5.0h-6zM1871 412.0h6v2.0h-6zM1893 456.0h6v2.0h-6zM1901 426.0h6v18.0h-6zM1907 416.0h6v11.0h-6zM1915 460.0h6v6.0h-6zM1937 508.0h6v6.0h-6zM1945 530.0h6v14.0h-6zM1951 500.0h6v18.0h-6zM1959 478.0h6v4.0h-6zM1975 376.0h6v28.0h-6zM1989 374.0h6v30.0h-6zM1997 382.0h6v25.0h-6zM2003 484.0h6v4.0h-6zM2011 456.0h6v24.0h-6zM2019 424.0h6v20.0h-6zM2033 396.0h6v8.0h-6zM2049 464.0h6v2.0h-6zM2071 490.0h6v6.0h-6zM2085 550.0h6v4.0h-6zM2115 562.0h6v10.0h-6zM2123 548.0h6v10.0h-6zM2129 528.0h6v12.0h-6zM2159 490.0h6v14.0h-6zM2167 554.0h6v8.0h-6zM2175 566.0h6v8.0h-6zM2203 558.0h6v21.0h-6zM2233 562.0h6v17.0h-6zM2241 546.0h6v41.0h-6zM2277 476.0h6v4.0h-6zM2293 408.0h6v3.0h-6zM2299 412.0h6v6.0h-6zM2307 386.0h6v16.0h-6zM2315 384.0h6v18.0h-6zM2337 406.0h6v5.0h-6zM2345 386.0h6v11.0h-6zM2351 388.0h6v14.0h-6zM2359 368.0h6v4.0h-6zM2373 338.0h6v4.0h-6zM2389 322.0h6v22.0h-6zM2403 256.0h6v12.0h-6zM2411 214.0h6v30.0h-6zM2425 198.0h6v14.0h-6zM2447 204.0h6v2.0h-6zM2463 208.0h6v4.0h-6zM2471 206.0h6v8.0h-6zM2493 316.0h6v19.0h-6zM2499 322.0h6v18.0h-6zM2507 282.0h6v16.0h-6zM2515 262.0h6v8.0h-6zM2537 240.0h6v21.0h-6zM2545 194.0h6v10.0h-6zM2581 230.0h6v2.0h-6zM2603 294.0h6v22.0h-6zM2619 300.0h6v4.0h-6zM2633 292.0h6v32.0h-6zM2641 252.0h6v6.0h-6zM2647 212.0h6v8.0h-6zM2693 256.0h6v12.0h-6zM2699 208.0h6v28.0h-6zM2707 184.0h6v2.0h-6zM2721 228.0h6v26.0h-6zM2759 226.0h6v2.0h-6zM2781 266.0h6v14.0h-6zM2803 172.0h6v8.0h-6zM2819 140.0h6v10.0h-6zM2847 192.0h6v6.0h-6zM2893 212.0h6v6.0h-6zM2907 278.0h6v20.0h-6zM2921 256.0h6v24.0h-6zM2951 286.0h6v6.0h-6zM2959 262.0h6v8.0h-6zM2967 242.0h6v6.0h-6zM2973 212.0h6v16.0h-6zM3003 262.0h6v6.0h-6zM3025 382.0h6v8.0h-6zM3033 388.0h6v4.0h-6zM3041 388.0h6v26.0h-6zM3047 396.0h6v4.0h-6zM3055 382.0h6v8.0h-6zM3063 346.0h6v32.0h-6zM3069 362.0h6v6.0h-6zM3077 370.0h6v20.0h-6zM3085 308.0h6v28.0h-6zM3099 228.0h6v28.0h-6zM3107 210.0h6v4.0h-6zM3115 192.0h6v50.0h-6zM3121 166.0h6v10.0h-6zM3129 166.0h6v26.0h-6zM3137 156.0h6v9.0h-6zM3143 158.0h6v20.0h-6zM3165 104.0h6v2.0h-6zM3173 98.0h6v8.0h-6zM3189 156.0h6v9.0h-6zM3211 210.0h6v16.0h-6zM3225 206.0h6v12.0h-6zM3247 260.0h6v30.0h-6zM3255 256.0h6v36.0h-6zM3291 358.0h6v6.0h-6zM3299 320.0h6v58.0h-6zM3307 320.0h6v20.0h-6zM3337 230.0h6v6.0h-6zM3359 240.0h6v16.0h-6zM3365 240.0h6v32.0h-6zM3389 332.0h6v4.0h-6zM3403 308.0h6v2.0h-6zM3447 412.0h6v11.0h-6zM3455 428.0h6v14.0h-6zM3477 346.0h6v34.0h-6zM3485 342.0h6v8.0h-6z" fill="#225437"/>
<path d="M19 686.0h6v14.0h-6zM27 660.0h6v10.0h-6zM35 656.0h6v16.0h-6zM43 700.0h6v30.0h-6zM65 758.0h6v4.0h-6zM71 778.0h6v4.0h-6zM93 704.0h6v26.0h-6zM117 696.0h6v4.0h-6zM139 692.0h6v14.0h-6zM145 748.0h6v6.0h-6zM153 786.0h6v22.0h-6zM167 796.0h6v15.0h-6zM213 792.0h6v4.0h-6zM219 870.0h6v12.0h-6zM227 898.0h6v4.0h-6zM235 899.0h6v2.0h-6zM241 878.0h6v10.0h-6zM265 818.0h6v4.0h-6zM279 818.0h6v18.0h-6zM287 880.0h6v4.0h-6zM293 860.0h6v6.0h-6zM309 896.0h6v14.0h-6zM323 878.0h6v4.0h-6zM331 866.0h6v8.0h-6zM339 870.0h6v6.0h-6zM397 772.0h6v17.0h-6zM405 850.0h6v8.0h-6zM413 878.0h6v5.0h-6zM441 868.0h6v15.0h-6zM449 870.0h6v4.0h-6zM457 864.0h6v24.0h-6zM479 892.0h6v4.0h-6zM487 910.0h6v22.0h-6zM501 956.0h6v16.0h-6zM509 932.0h6v16.0h-6zM531 890.0h6v15.0h-6zM539 890.0h6v6.0h-6zM553 876.0h6v2.0h-6zM561 864.0h6v9.0h-6zM589 840.0h6v16.0h-6zM597 852.0h6v13.0h-6zM613 862.0h6v16.0h-6zM619 878.0h6v12.0h-6zM635 878.0h6v8.0h-6zM663 918.0h6v6.0h-6zM671 920.0h6v14.0h-6zM731 938.0h6v12.0h-6zM737 986.0h6v22.0h-6zM745 994.0h6v10.0h-6zM753 982.0h6v4.0h-6zM761 980.0h6v4.0h-6zM835 840.0h6v4.0h-6zM849 810.0h6v10.0h-6zM879 778.0h6v26.0h-6zM885 808.0h6v14.0h-6zM901 836.0h6v10.0h-6zM909 844.0h6v8.0h-6zM937 770.0h6v18.0h-6zM961 744.0h6v16.0h-6zM967 763.0h6v5.0h-6zM989 712.0h6v24.0h-6zM1005 728.0h6v10.0h-6zM1011 762.0h6v12.0h-6zM1027 756.0h6v14.0h-6zM1041 746.0h6v2.0h-6zM1049 772.0h6v12.0h-6zM1071 726.0h6v14.0h-6zM1109 674.0h6v6.0h-6zM1153 636.0h6v17.0h-6zM1159 640.0h6v16.0h-6zM1167 682.0h6v7.0h-6zM1175 664.0h6v4.0h-6zM1183 646.0h6v4.0h-6zM1189 668.0h6v16.0h-6zM1211 706.0h6v18.0h-6zM1219 722.0h6v8.0h-6zM1227 726.0h6v17.0h-6zM1233 728.0h6v17.0h-6zM1241 732.0h6v11.0h-6zM1249 744.0h6v14.0h-6zM1263 748.0h6v24.0h-6zM1271 756.0h6v2.0h-6zM1285 724.0h6v10.0h-6zM1293 722.0h6v22.0h-6zM1301 734.0h6v4.0h-6zM1315 694.0h6v12.0h-6zM1331 692.0h6v8.0h-6zM1337 722.0h6v8.0h-6zM1375 698.0h6v8.0h-6zM1389 706.0h6v4.0h-6zM1419 692.0h6v12.0h-6zM1427 692.0h6v7.0h-6zM1433 698.0h6v8.0h-6zM1449 648.0h6v4.0h-6zM1515 646.0h6v6.0h-6zM1531 646.0h6v21.0h-6zM1553 630.0h6v6.0h-6zM1581 630.0h6v19.0h-6zM1589 628.0h6v4.0h-6zM1597 648.0h6v8.0h-6zM1619 620.0h6v4.0h-6zM1627 650.0h6v12.0h-6zM1633 660.0h6v6.0h-6zM1641 660.0h6v4.0h-6zM1649 658.0h6v4.0h-6zM1671 614.0h6v14.0h-6zM1707 548.0h6v2.0h-6zM1737 494.0h6v8.0h-6zM1753 454.0h6v6.0h-6zM1759 442.0h6v8.0h-6zM1767 426.0h6v8.0h-6zM1789 388.0h6v19.0h-6zM1797 408.0h6v8.0h-6zM1811 330.0h6v14.0h-6zM1819 338.0h6v22.0h-6zM1827 416.0h6v6.0h-6zM1833 400.0h6v20.0h-6zM1841 412.0h6v14.0h-6zM1849 402.0h6v18.0h-6zM1855 414.0h6v4.0h-6zM1877 416.0h6v6.0h-6zM1885 436.0h6v14.0h-6zM1923 515.0h6v2.0h-6zM1929 466.0h6v16.0h-6zM1967 467.0h6v2.0h-6zM1981 366.0h6v4.0h-6zM2025 410.0h6v4.0h-6zM2041 406.0h6v32.0h-6zM2055 490.0h6v8.0h-6zM2063 520.0h6v12.0h-6zM2077 490.0h6v22.0h-6zM2093 566.0h6v19.0h-6zM2101 538.0h6v8.0h-6zM2107 550.0h6v12.0h-6zM2137 510.0h6v13.0h-6zM2145 556.0h6v6.0h-6zM2151 518.0h6v27.0h-6zM2181 537.0h6v2.0h-6zM2189 542.0h6v20.0h-6zM2197 564.0h6v30.0h-6zM2211 554.0h6v6.0h-6zM2219 554.0h6v20.0h-6zM2225 560.0h6v4.0h-6zM2249 504.0h6v6.0h-6zM2255 488.0h6v8.0h-6zM2263 482.0h6v8.0h-6zM2271 454.0h6v19.0h-6zM2285 464.0h6v4.0h-6zM2323 382.0h6v20.0h-6zM2329 386.0h6v11.0h-6zM2367 368.0h6v4.0h-6zM2381 340.0h6v10.0h-6zM2397 268.0h6v18.0h-6zM2419 200.0h6v32.0h-6zM2433 168.0h6v4.0h-6zM2441 172.0h6v24.0h-6zM2455 208.0h6v12.0h-6zM2477 230.0h6v34.0h-6zM2485 316.0h6v14.0h-6zM2521 236.0h6v19.0h-6zM2529 274.0h6v12.0h-6zM2551 190.0h6v6.0h-6zM2559 200.0h6v22.0h-6zM2567 228.0h6v24.0h-6zM2573 240.0h6v4.0h-6zM2589 276.0h6v10.0h-6zM2595 266.0h6v46.0h-6zM2611 266.0h6v20.0h-6zM2625 266.0h6v4.0h-6zM2655 194.0h6v14.0h-6zM2663 220.0h6v8.0h-6zM2669 250.0h6v16.0h-6zM2677 262.0h6v4.0h-6zM2685 272.0h6v6.0h-6zM2715 184.0h6v32.0h-6zM2729 232.0h6v14.0h-6zM2737 252.0h6v12.0h-6zM2745 294.0h6v8.0h-6zM2751 226.0h6v4.0h-6zM2767 268.0h6v8.0h-6zM2773 294.0h6v12.0h-6zM2789 210.0h6v8.0h-6zM2795 216.0h6v10.0h-6zM2811 172.0h6v16.0h-6zM2825 124.0h6v4.0h-6zM2833 168.0h6v38.0h-6zM2841 208.0h6v36.0h-6zM2855 222.0h6v4.0h-6zM2863 182.0h6v24.0h-6zM2869 200.0h6v4.0h-6zM2877 200.0h6v20.0h-6zM2885 220.0h6v28.0h-6zM2899 190.0h6v32.0h-6zM2915 284.0h6v2.0h-6zM2929 274.0h6v26.0h-6zM2937 316.0h6v16.0h-6zM2943 292.0h6v12.0h-6zM2981 200.0h6v16.0h-6zM2989 240.0h6v13.0h-6zM2995 238.0h6v30.0h-6zM3011 266.0h6v58.0h-6zM3017 358.0h6v20.0h-6zM3091 278.0h6v6.0h-6zM3151 134.0h6v20.0h-6zM3159 124.0h6v4.0h-6zM3181 142.0h6v26.0h-6zM3195 136.0h6v16.0h-6zM3203 232.0h6v10.0h-6zM3217 230.0h6v16.0h-6zM3233 192.0h6v32.0h-6zM3239 232.0h6v24.0h-6zM3263 242.0h6v42.0h-6zM3269 288.0h6v44.0h-6zM3277 382.0h6v36.0h-6zM3285 376.0h6v14.0h-6zM3315 186.0h6v76.0h-6zM3321 232.0h6v4.0h-6zM3329 250.0h6v12.0h-6zM3343 232.0h6v10.0h-6zM3351 226.0h6v20.0h-6zM3373 270.0h6v10.0h-6zM3381 300.0h6v30.0h-6zM3395 308.0h6v4.0h-6zM3411 286.0h6v4.0h-6zM3417 338.0h6v26.0h-6zM3425 334.0h6v18.0h-6zM3433 356.0h6v12.0h-6zM3439 412.0h6v31.0h-6zM3463 396.0h6v10.0h-6zM3469 422.0h6v4.0h-6z" fill="#5B1A13"/>
<path d="M7 640.0h2v8.0h-2zM15 652.0h2v6.0h-2zM51 750.0h2v12.0h-2zM59 746.0h2v10.0h-2zM81 752.0h2v8.0h-2zM89 712.0h2v22.0h-2zM111 680.0h2v24.0h-2zM133 694.0h2v6.0h-2zM163 812.0h2v9.0h-2zM177 820.0h2v16.0h-2zM185 764.0h2v12.0h-2zM199 760.0h2v8.0h-2zM207 778.0h2v8.0h-2zM251 864.0h2v14.0h-2zM259 804.0h2v29.0h-2zM273 820.0h2v7.0h-2zM303 862.0h2v14.0h-2zM317 886.0h2v17.0h-2zM347 880.0h2v8.0h-2zM363 828.0h2v26.0h-2zM369 834.0h2v4.0h-2zM385 762.0h2v70.0h-2zM393 784.0h2v2.0h-2zM421 884.0h2v26.0h-2zM437 876.0h2v4.0h-2zM467 898.0h2v20.0h-2zM473 888.0h2v9.0h-2zM495 930.0h2v13.0h-2zM517 936.0h2v3.0h-2zM525 912.0h2v6.0h-2zM547 892.0h2v11.0h-2zM569 882.0h2v6.0h-2zM577 860.0h2v9.0h-2zM585 836.0h2v4.0h-2zM607 846.0h2v15.0h-2zM629 880.0h2v8.0h-2zM643 898.0h2v11.0h-2zM651 874.0h2v16.0h-2zM681 926.0h2v12.0h-2zM689 910.0h2v10.0h-2zM695 902.0h2v18.0h-2zM703 900.0h2v6.0h-2zM717 948.0h2v10.0h-2zM725 946.0h2v14.0h-2zM777 954.0h2v12.0h-2zM785 914.0h2v18.0h-2zM791 928.0h2v4.0h-2zM799 932.0h2v4.0h-2zM807 896.0h2v4.0h-2zM813 868.0h2v10.0h-2zM821 858.0h2v14.0h-2zM829 840.0h2v26.0h-2zM843 825.0h2v1.0h-2zM865 802.0h2v4.0h-2zM873 800.0h2v2.0h-2zM895 814.0h2v2.0h-2zM917 842.0h2v6.0h-2zM925 786.0h2v2.0h-2zM947 754.0h2v10.0h-2zM955 732.0h2v6.0h-2zM977 762.0h2v10.0h-2zM985 732.0h2v8.0h-2zM999 730.0h2v4.0h-2zM1037 766.0h2v2.0h-2zM1059 764.0h2v16.0h-2zM1065 744.0h2v22.0h-2zM1081 702.0h2v20.0h-2zM1087 698.0h2v3.0h-2zM1095 684.0h2v1.0h-2zM1103 684.0h2v1.0h-2zM1117 650.0h2v11.0h-2zM1147 626.0h2v21.0h-2zM1207 724.0h2v4.0h-2zM1259 756.0h2v2.0h-2zM1281 736.0h2v10.0h-2zM1309 702.0h2v6.0h-2zM1347 720.0h2v4.0h-2zM1361 654.0h2v10.0h-2zM1369 664.0h2v10.0h-2zM1383 698.0h2v10.0h-2zM1399 706.0h2v4.0h-2zM1413 700.0h2v6.0h-2zM1443 680.0h2v8.0h-2zM1457 628.0h2v8.0h-2zM1465 630.0h2v16.0h-2zM1473 558.0h2v28.0h-2zM1481 574.0h2v8.0h-2zM1503 588.0h2v14.0h-2zM1525 658.0h2v6.0h-2zM1561 610.0h2v4.0h-2zM1569 610.0h2v6.0h-2zM1577 612.0h2v2.0h-2zM1607 636.0h2v8.0h-2zM1613 608.0h2v12.0h-2zM1657 632.0h2v4.0h-2zM1665 628.0h2v2.0h-2zM1687 590.0h2v12.0h-2zM1695 576.0h2v4.0h-2zM1703 578.0h2v9.0h-2zM1725 516.0h2v12.0h-2zM1731 506.0h2v6.0h-2zM1747 494.0h2v10.0h-2zM1783 400.0h2v10.0h-2zM1805 368.0h2v8.0h-2zM1865 426.0h2v1.0h-2zM1903 428.0h2v14.0h-2zM1909 418.0h2v7.0h-2zM1917 462.0h2v2.0h-2zM1939 510.0h2v2.0h-2zM1947 532.0h2v10.0h-2zM1953 502.0h2v14.0h-2zM1977 378.0h2v24.0h-2zM1991 376.0h2v26.0h-2zM1999 384.0h2v21.0h-2zM2013 458.0h2v20.0h-2zM2021 426.0h2v16.0h-2zM2035 398.0h2v4.0h-2zM2073 492.0h2v2.0h-2zM2117 564.0h2v6.0h-2zM2125 550.0h2v6.0h-2zM2131 530.0h2v8.0h-2zM2161 492.0h2v10.0h-2zM2169 556.0h2v4.0h-2zM2177 568.0h2v4.0h-2zM2205 560.0h2v17.0h-2zM2235 564.0h2v13.0h-2zM2243 548.0h2v37.0h-2zM2301 414.0h2v2.0h-2zM2309 388.0h2v12.0h-2zM2317 386.0h2v14.0h-2zM2339 408.0h2v1.0h-2zM2347 388.0h2v7.0h-2zM2353 390.0h2v10.0h-2zM2391 324.0h2v18.0h-2zM2405 258.0h2v8.0h-2zM2413 216.0h2v26.0h-2zM2427 200.0h2v10.0h-2zM2473 208.0h2v4.0h-2zM2495 318.0h2v15.0h-2zM2501 324.0h2v14.0h-2zM2509 284.0h2v12.0h-2zM2517 264.0h2v4.0h-2zM2539 242.0h2v17.0h-2zM2547 196.0h2v6.0h-2zM2605 296.0h2v18.0h-2zM2635 294.0h2v28.0h-2zM2643 254.0h2v2.0h-2zM2649 214.0h2v4.0h-2zM2695 258.0h2v8.0h-2zM2701 210.0h2v24.0h-2zM2723 230.0h2v22.0h-2zM2783 268.0h2v10.0h-2zM2805 174.0h2v4.0h-2zM2821 142.0h2v6.0h-2zM2849 194.0h2v2.0h-2zM2895 214.0h2v2.0h-2zM2909 280.0h2v16.0h-2zM2923 258.0h2v20.0h-2zM2953 288.0h2v2.0h-2zM2961 264.0h2v4.0h-2zM2969 244.0h2v2.0h-2zM2975 214.0h2v12.0h-2zM3005 264.0h2v2.0h-2zM3027 384.0h2v4.0h-2zM3043 390.0h2v22.0h-2zM3057 384.0h2v4.0h-2zM3065 348.0h2v28.0h-2zM3071 364.0h2v2.0h-2zM3079 372.0h2v16.0h-2zM3087 310.0h2v24.0h-2zM3101 230.0h2v24.0h-2zM3117 194.0h2v46.0h-2zM3123 168.0h2v6.0h-2zM3131 168.0h2v22.0h-2zM3139 158.0h2v5.0h-2zM3145 160.0h2v16.0h-2zM3175 100.0h2v4.0h-2zM3191 158.0h2v5.0h-2zM3213 212.0h2v12.0h-2zM3227 208.0h2v8.0h-2zM3249 262.0h2v26.0h-2zM3257 258.0h2v32.0h-2zM3293 360.0h2v2.0h-2zM3301 322.0h2v54.0h-2zM3309 322.0h2v16.0h-2zM3339 232.0h2v2.0h-2zM3361 242.0h2v12.0h-2zM3367 242.0h2v28.0h-2zM3449 414.0h2v7.0h-2zM3457 430.0h2v10.0h-2zM3479 348.0h2v30.0h-2zM3487 344.0h2v4.0h-2z" fill="#6BA583"/>
<path d="M21 688.0h2v10.0h-2zM29 662.0h2v6.0h-2zM37 658.0h2v12.0h-2zM45 702.0h2v26.0h-2zM95 706.0h2v22.0h-2zM141 694.0h2v10.0h-2zM147 750.0h2v2.0h-2zM155 788.0h2v18.0h-2zM169 798.0h2v11.0h-2zM221 872.0h2v8.0h-2zM243 880.0h2v6.0h-2zM281 820.0h2v14.0h-2zM295 862.0h2v2.0h-2zM311 898.0h2v10.0h-2zM333 868.0h2v4.0h-2zM341 872.0h2v2.0h-2zM399 774.0h2v13.0h-2zM407 852.0h2v4.0h-2zM415 880.0h2v1.0h-2zM443 870.0h2v11.0h-2zM459 866.0h2v20.0h-2zM489 912.0h2v18.0h-2zM503 958.0h2v12.0h-2zM511 934.0h2v12.0h-2zM533 892.0h2v11.0h-2zM541 892.0h2v2.0h-2zM563 866.0h2v5.0h-2zM591 842.0h2v12.0h-2zM599 854.0h2v9.0h-2zM615 864.0h2v12.0h-2zM621 880.0h2v8.0h-2zM637 880.0h2v4.0h-2zM665 920.0h2v2.0h-2zM673 922.0h2v10.0h-2zM733 940.0h2v8.0h-2zM739 988.0h2v18.0h-2zM747 996.0h2v6.0h-2zM851 812.0h2v6.0h-2zM881 780.0h2v22.0h-2zM887 810.0h2v10.0h-2zM903 838.0h2v6.0h-2zM911 846.0h2v4.0h-2zM939 772.0h2v14.0h-2zM963 746.0h2v12.0h-2zM969 765.0h2v1.0h-2zM991 714.0h2v20.0h-2zM1007 730.0h2v6.0h-2zM1013 764.0h2v8.0h-2zM1029 758.0h2v10.0h-2zM1051 774.0h2v8.0h-2zM1073 728.0h2v10.0h-2zM1111 676.0h2v2.0h-2zM1155 638.0h2v13.0h-2zM1161 642.0h2v12.0h-2zM1169 684.0h2v3.0h-2zM1191 670.0h2v12.0h-2zM1213 708.0h2v14.0h-2zM1221 724.0h2v4.0h-2zM1229 728.0h2v13.0h-2zM1235 730.0h2v13.0h-2zM1243 734.0h2v7.0h-2zM1251 746.0h2v10.0h-2zM1265 750.0h2v20.0h-2zM1287 726.0h2v6.0h-2zM1295 724.0h2v18.0h-2zM1317 696.0h2v8.0h-2zM1333 694.0h2v4.0h-2zM1339 724.0h2v4.0h-2zM1377 700.0h2v4.0h-2zM1421 694.0h2v8.0h-2zM1429 694.0h2v3.0h-2zM1435 700.0h2v4.0h-2zM1517 648.0h2v2.0h-2zM1533 648.0h2v17.0h-2zM1555 632.0h2v2.0h-2zM1583 632.0h2v15.0h-2zM1599 650.0h2v4.0h-2zM1629 652.0h2v8.0h-2zM1635 662.0h2v2.0h-2zM1673 616.0h2v10.0h-2zM1739 496.0h2v4.0h-2zM1755 456.0h2v2.0h-2zM1761 444.0h2v4.0h-2zM1769 428.0h2v4.0h-2zM1791 390.0h2v15.0h-2zM1799 410.0h2v4.0h-2zM1813 332.0h2v10.0h-2zM1821 340.0h2v18.0h-2zM1829 418.0h2v2.0h-2zM1835 402.0h2v16.0h-2zM1843 414.0h2v10.0h-2zM1851 404.0h2v14.0h-2zM1879 418.0h2v2.0h-2zM1887 438.0h2v10.0h-2zM1931 468.0h2v12.0h-2zM2043 408.0h2v28.0h-2zM2057 492.0h2v4.0h-2zM2065 522.0h2v8.0h-2zM2079 492.0h2v18.0h-2zM2095 568.0h2v15.0h-2zM2103 540.0h2v4.0h-2zM2109 552.0h2v8.0h-2zM2139 512.0h2v9.0h-2zM2147 558.0h2v2.0h-2zM2153 520.0h2v23.0h-2zM2191 544.0h2v16.0h-2zM2199 566.0h2v26.0h-2zM2213 556.0h2v2.0h-2zM2221 556.0h2v16.0h-2zM2251 506.0h2v2.0h-2zM2257 490.0h2v4.0h-2zM2265 484.0h2v4.0h-2zM2273 456.0h2v15.0h-2zM2325 384.0h2v16.0h-2zM2331 388.0h2v7.0h-2zM2383 342.0h2v6.0h-2zM2399 270.0h2v14.0h-2zM2421 202.0h2v28.0h-2zM2443 174.0h2v20.0h-2zM2457 210.0h2v8.0h-2zM2479 232.0h2v30.0h-2zM2487 318.0h2v10.0h-2zM2523 238.0h2v15.0h-2zM2531 276.0h2v8.0h-2zM2553 192.0h2v2.0h-2zM2561 202.0h2v18.0h-2zM2569 230.0h2v20.0h-2zM2591 278.0h2v6.0h-2zM2597 268.0h2v42.0h-2zM2613 268.0h2v16.0h-2zM2657 196.0h2v10.0h-2zM2665 222.0h2v4.0h-2zM2671 252.0h2v12.0h-2zM2687 274.0h2v2.0h-2zM2717 186.0h2v28.0h-2zM2731 234.0h2v10.0h-2zM2739 254.0h2v8.0h-2zM2747 296.0h2v4.0h-2zM2769 270.0h2v4.0h-2zM2775 296.0h2v8.0h-2zM2791 212.0h2v4.0h-2zM2797 218.0h2v6.0h-2zM2813 174.0h2v12.0h-2zM2835 170.0h2v34.0h-2zM2843 210.0h2v32.0h-2zM2865 184.0h2v20.0h-2zM2879 202.0h2v16.0h-2zM2887 222.0h2v24.0h-2zM2901 192.0h2v28.0h-2zM2931 276.0h2v22.0h-2zM2939 318.0h2v12.0h-2zM2945 294.0h2v8.0h-2zM2983 202.0h2v12.0h-2zM2991 242.0h2v9.0h-2zM2997 240.0h2v26.0h-2zM3013 268.0h2v54.0h-2zM3019 360.0h2v16.0h-2zM3093 280.0h2v2.0h-2zM3153 136.0h2v16.0h-2zM3183 144.0h2v22.0h-2zM3197 138.0h2v12.0h-2zM3205 234.0h2v6.0h-2zM3219 232.0h2v12.0h-2zM3235 194.0h2v28.0h-2zM3241 234.0h2v20.0h-2zM3265 244.0h2v38.0h-2zM3271 290.0h2v40.0h-2zM3279 384.0h2v32.0h-2zM3287 378.0h2v10.0h-2zM3317 188.0h2v72.0h-2zM3331 252.0h2v8.0h-2zM3345 234.0h2v6.0h-2zM3353 228.0h2v16.0h-2zM3375 272.0h2v6.0h-2zM3383 302.0h2v26.0h-2zM3419 340.0h2v22.0h-2zM3427 336.0h2v14.0h-2zM3435 358.0h2v8.0h-2zM3441 414.0h2v27.0h-2zM3465 398.0h2v6.0h-2z" fill="#D75442"/>
<g fill="#4f4f52">
<rect x="3529" y="6" width="2" height="1590"/>
<rect x="5" y="1594" width="3526" height="2"/>
<rect x="3531" y="42" width="6" height="2"/>
<rect x="3531" y="117" width="6" height="2"/>
<rect x="3531" y="191" width="6" height="2"/>
<rect x="3531" y="266" width="6" height="2"/>
<rect x="3531" y="341" width="6" height="2"/>
<rect x="3531" y="415" width="6" height="2"/>
<rect x="3531" y="490" width="6" height="2"/>
<rect x="3531" y="564" width="6" height="2"/>
<rect x="3531" y="639" width="6" height="2"/>
<rect x="3531" y="714" width="6" height="2"/>
<rect x="3531" y="788" width="6" height="2"/>
<rect x="3531" y="863" width="6" height="2"/>
<rect x="3531" y="937" width="6" height="2"/>
<rect x="3531" y="1012" width="6" height="2"/>
<rect x="3531" y="1087" width="6" height="2"/>
<rect x="3531" y="1161" width="6" height="2"/>
<rect x="3531" y="1236" width="6" height="2"/>
<rect x="3531" y="1310" width="6" height="2"/>
<rect x="3531" y="1385" width="6" height="2"/>
<rect x="3531" y="1460" width="6" height="2"/>
<rect x="3531" y="1534" width="6" height="2"/>
<rect x="31.0" y="1596" width="2" height="6"/>
<rect x="187.0" y="1596" width="2" height="6"/>
<rect x="349.0" y="1596" width="2" height="6"/>
<rect x="645.0" y="1596" width="2" height="6"/>
<rect x="801.0" y="1596" width="2" height="6"/>
<rect x="957.0" y="1596" width="2" height="6"/>
<rect x="1127.0" y="1596" width="2" height="6"/>
<rect x="1283.0" y="1596" width="2" height="6"/>
<rect x="1445.0" y="1596" width="2" height="6"/>
<rect x="1749.0" y="1596" width="2" height="6"/>
<rect x="1905.0" y="1596" width="2" height="6"/>
<rect x="2207.0" y="1596" width="2" height="6"/>
<rect x="2363.0" y="1596" width="2" height="6"/>
<rect x="2519.0" y="1596" width="2" height="6"/>
<rect x="2673.0" y="1596" width="2" height="6"/>
<rect x="2829.0" y="1596" width="2" height="6"/>
<rect x="2999.0" y="1596" width="2" height="6"/>
<rect x="3155.0" y="1596" width="2" height="6"/>
<rect x="3319.0" y="1596" width="2" height="6"/>
<rect x="3481.0" y="1596" width="2" height="6"/>
</g>
<g fill="#555558" font-size="22">
<text x="3543" y="51.9">32.00%</text>
<text x="3543" y="126.9">28.00%</text>
<text x="3543" y="200.9">24.00%</text>
<text x="3543" y="275.9">20.00%</text>
<text x="3543" y="350.9">16.00%</text>
<text x="3543" y="424.9">12.00%</text>
<text x="3543" y="499.9">8.00%</text>
<text x="3543" y="573.9">4.00%</text>
<text x="3543" y="648.9">0.00%</text>
<text x="3543" y="723.9">-4.00%</text>
<text x="3543" y="797.9">-8.00%</text>
<text x="3543" y="872.9">-12.00%</text>
<text x="3543" y="946.9">-16.00%</text>
<text x="3543" y="1021.9">-20.00%</text>
<text x="3543" y="1096.9">-24.00%</text>
<text x="3543" y="1170.9">-28.00%</text>
<text x="3543" y="1245.9">-32.00%</text>
<text x="3543" y="1319.9">-36.00%</text>
<text x="3543" y="1394.9">-40.00%</text>
<text x="3543" y="1469.9">-44.00%</text>
<text x="3543" y="1543.9">-48.00%</text>
<text x="31.0" y="1630" text-anchor="middle">Feb</text>
<text x="187.0" y="1630" text-anchor="middle">2</text>
<text x="349.0" y="1630" text-anchor="middle">Apr</text>
<text x="645.0" y="1630" text-anchor="middle">Jun</text>
<text x="801.0" y="1630" text-anchor="middle">Jul</text>
<text x="957.0" y="1630" text-anchor="middle">Aug</text>
<text x="1127.0" y="1630" text-anchor="middle">Sep</text>
<text x="1283.0" y="1630" text-anchor="middle">Oct</text>
<text x="1445.0" y="1630" text-anchor="middle">Nov</text>
<text x="1749.0" y="1630" text-anchor="middle" font-weight="bold">2018</text>
<text x="1905.0" y="1630" text-anchor="middle">Feb</text>
<text x="2207.0" y="1630" text-anchor="middle">Apr</text>
<text x="2363.0" y="1630" text-anchor="middle">3</text>
<text x="2519.0" y="1630" text-anchor="middle">Jun</text>
<text x="2673.0" y="1630" text-anchor="middle">3</text>
<text x="2829.0" y="1630" text-anchor="middle">Aug</text>
<text x="2999.0" y="1630" text-anchor="middle">Sep</text>
<text x="3155.0" y="1630" text-anchor="middle">2</text>
<text x="3319.0" y="1630" text-anchor="middle">Nov</text>
<text x="3481.0" y="1630" text-anchor="middle">Dec</text>
</g>
<rect x="3529" y="326" width="98.0" height="34" fill="#6BA583"/>
<rect x="3529" y="342" width="6" height="2" fill="#fff" fill-opacity="0.8"/>
<text x="3544.0" y="350.2" fill="#fff" font-size="21" font-weight="bold" textLength="66.5" lengthAdjust="spacingAndGlyphs">15.93%</text>
<rect x="3529" y="448" width="86.0" height="34" fill="#FF4500"/>
<rect x="3529" y="464" width="6" height="2" fill="#fff" fill-opacity="0.8"/>
<text x="3543.5" y="472.4" fill="#fff" font-size="21" font-weight="bold" textLength="55.5" lengthAdjust="spacingAndGlyphs">9.38%</text>
<rect x="3529" y="1330" width="104.0" height="34" fill="#FF8C10"/>
<rect x="3529" y="1346" width="6" height="2" fill="#fff" fill-opacity="0.8"/>
<text x="3544.0" y="1354.7" fill="#fff" font-size="21" font-weight="bold" textLength="74.5" lengthAdjust="spacingAndGlyphs">-37.93%</text>
<circle cx="224.8" cy="1562" r="24.5" fill="#fff" stroke="#2A9BF4" stroke-width="1.6"/>
<text x="224.8" y="1570.5" text-anchor="middle" font-size="24" fill="#1E96F5" stroke="#1E96F5" stroke-width="0.5">D</text>
<circle cx="1159.0" cy="1562" r="24.5" fill="#fff" stroke="#2A9BF4" stroke-width="1.6"/>
<text x="1159.0" y="1570.5" text-anchor="middle" font-size="24" fill="#1E96F5" stroke="#1E96F5" stroke-width="0.5">D</text>
<circle cx="2090.8" cy="1562" r="24.5" fill="#fff" stroke="#2A9BF4" stroke-width="1.6"/>
<text x="2090.8" y="1570.5" text-anchor="middle" font-size="24" fill="#1E96F5" stroke="#1E96F5" stroke-width="0.5">D</text>
<circle cx="3022.8" cy="1562" r="24.5" fill="#fff" stroke="#2A9BF4" stroke-width="1.6"/>
<text x="3022.8" y="1570.5" text-anchor="middle" font-size="24" fill="#1E96F5" stroke="#1E96F5" stroke-width="0.5">D</text>
<circle cx="3403" cy="42" r="14.5" fill="none" stroke="#FF9046" stroke-width="2.6"/>
<rect x="3401.6" y="33" width="2.8" height="12" fill="#FF9046"/><rect x="3401.6" y="47.5" width="2.8" height="3" fill="#FF9046"/>
<text x="3432" y="50.5" font-size="24" fill="#FF9046" textLength="84.5" lengthAdjust="spacingAndGlyphs">Delayed</text>
<rect x="16.5" y="31.5" width="23" height="23" rx="2" fill="#fff" stroke="#555558" stroke-width="2"/>
<rect x="20" y="42" width="17" height="2" fill="#555558"/>
<path d="M57 33.5H81L73.5 45L81 56.5H57z" fill="#c5c8d0"/>
<text x="91.0" y="55.6" font-size="31" fill="#555558" textLength="474.5" lengthAdjust="spacingAndGlyphs">BHP BILLITON LIMITED, 1D, ASX</text>
<path d="M576.5 41.5h15.5l-7.75 7.5z" fill="#c8c9cc"/>
<text x="621.5" y="56.0" font-size="27" fill="#555558" textLength="19.5" lengthAdjust="spacingAndGlyphs">O</text>
<text x="647.5" y="56.0" font-size="27" fill="#225437" textLength="69.5" lengthAdjust="spacingAndGlyphs">31.80</text>
<text x="738.0" y="56.0" font-size="27" fill="#555558" textLength="19.0" lengthAdjust="spacingAndGlyphs">H</text>
<text x="763.5" y="56.0" font-size="27" fill="#225437" textLength="68.5" lengthAdjust="spacingAndGlyphs">32.18</text>
<text x="854.5" y="56.0" font-size="27" fill="#555558" textLength="14.0" lengthAdjust="spacingAndGlyphs">L</text>
<text x="874.5" y="56.0" font-size="27" fill="#225437" textLength="69.0" lengthAdjust="spacingAndGlyphs">31.80</text>
<text x="964.0" y="56.0" font-size="27" fill="#555558" textLength="18.0" lengthAdjust="spacingAndGlyphs">C</text>
<text x="988.0" y="56.0" font-size="27" fill="#225437" textLength="66.0" lengthAdjust="spacingAndGlyphs">31.91</text>
<text x="1084.0" y="56.0" font-size="27" fill="#225437" textLength="188.5" lengthAdjust="spacingAndGlyphs">+0.11 (+0.33%)</text>
<text x="16.0" y="96.2" font-size="21" fill="#555558" textLength="90.5" lengthAdjust="spacingAndGlyphs">RIO, ASX</text>
<path d="M115.5 84h15l-7.5 7.5z" fill="#c8c9cc"/>
<rect x="151.0" y="75.0" width="28" height="28" fill="#d1d3d2"/>
<path d="M154.4 89.0Q165.0 72.5 175.6 89.0Q165.0 105.5 154.4 89.0z" fill="#fff"/>
<circle cx="165.0" cy="89.0" r="5.4" fill="#d1d3d2"/><circle cx="165.0" cy="89.0" r="2.4" fill="#fff"/>
<rect x="185.0" y="75.0" width="28" height="28" fill="#d1d3d2"/>
<rect x="196.3" y="78.8" width="5.4" height="20.4" fill="#fff" transform="rotate(0 199.0 89.0)"/><rect x="196.3" y="78.8" width="5.4" height="20.4" fill="#fff" transform="rotate(45 199.0 89.0)"/><rect x="196.3" y="78.8" width="5.4" height="20.4" fill="#fff" transform="rotate(90 199.0 89.0)"/><rect x="196.3" y="78.8" width="5.4" height="20.4" fill="#fff" transform="rotate(135 199.0 89.0)"/><circle cx="199.0" cy="89.0" r="7.6" fill="#fff"/><circle cx="199.0" cy="89.0" r="4" fill="#d1d3d2"/>
<rect x="219.0" y="75.0" width="28" height="28" fill="#d1d3d2"/>
<rect x="225.0" y="86.8" width="16" height="4.4" fill="#fff"/><rect x="230.8" y="81.0" width="4.4" height="16" fill="#fff"/>
<rect x="253.0" y="75.0" width="28" height="28" fill="#d1d3d2"/>
<path d="M258.5 80.5L275.5 97.5M275.5 80.5L258.5 97.5" stroke="#fff" stroke-width="4.2" fill="none"/>
<text x="298.0" y="97.3" font-size="22" fill="#FF2D00" textLength="57.0" lengthAdjust="spacingAndGlyphs">74.22</text>
<text x="16.0" y="137.3" font-size="21" fill="#555558" textLength="99.0" lengthAdjust="spacingAndGlyphs">FMG, ASX</text>
<path d="M124.2 125h15l-7.5 7.5z" fill="#c8c9cc"/>
<rect x="160.0" y="117.0" width="28" height="28" fill="#d1d3d2"/>
<path d="M163.4 131.0Q174.0 114.5 184.6 131.0Q174.0 147.5 163.4 131.0z" fill="#fff"/>
<circle cx="174.0" cy="131.0" r="5.4" fill="#d1d3d2"/><circle cx="174.0" cy="131.0" r="2.4" fill="#fff"/>
<rect x="194.0" y="117.0" width="28" height="28" fill="#d1d3d2"/>
<rect x="205.3" y="120.8" width="5.4" height="20.4" fill="#fff" transform="rotate(0 208.0 131.0)"/><rect x="205.3" y="120.8" width="5.4" height="20.4" fill="#fff" transform="rotate(45 208.0 131.0)"/><rect x="205.3" y="120.8" width="5.4" height="20.4" fill="#fff" transform="rotate(90 208.0 131.0)"/><rect x="205.3" y="120.8" width="5.4" height="20.4" fill="#fff" transform="rotate(135 208.0 131.0)"/><circle cx="208.0" cy="131.0" r="7.6" fill="#fff"/><circle cx="208.0" cy="131.0" r="4" fill="#d1d3d2"/>
<rect x="228.0" y="117.0" width="28" height="28" fill="#d1d3d2"/>
<rect x="234.0" y="128.8" width="16" height="4.4" fill="#fff"/><rect x="239.8" y="123.0" width="4.4" height="16" fill="#fff"/>
<rect x="262.0" y="117.0" width="28" height="28" fill="#d1d3d2"/>
<path d="M267.5 122.5L284.5 139.5M284.5 122.5L267.5 139.5" stroke="#fff" stroke-width="4.2" fill="none"/>
<text x="306.0" y="138.3" font-size="22" fill="#FF8400" textLength="45.5" lengthAdjust="spacingAndGlyphs">4.12</text>
</svg></body></html>
